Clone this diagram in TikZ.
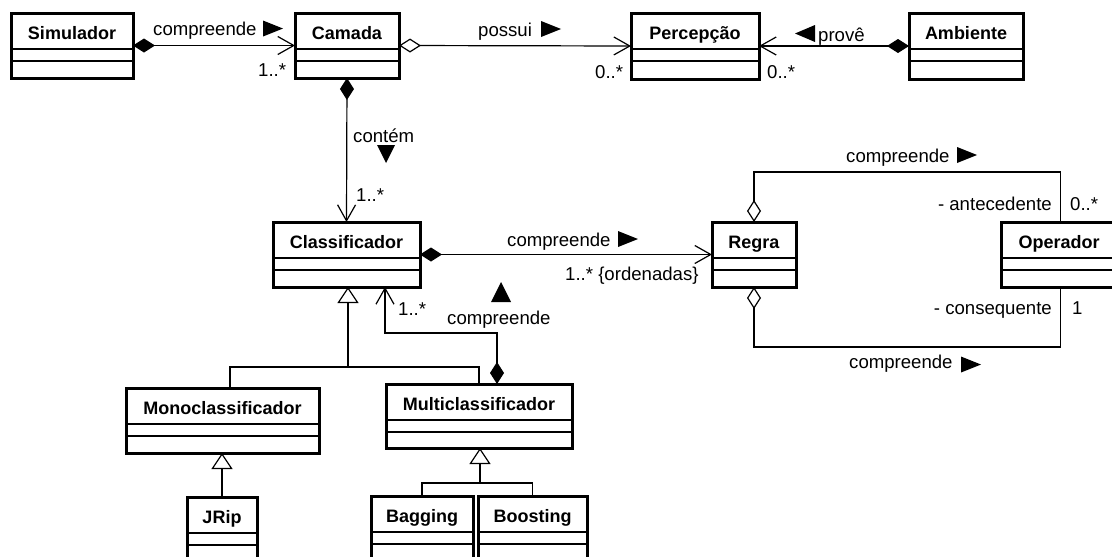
\documentclass[tikz,border=0pt]{standalone}
\usepackage{fontspec}
\setmainfont{Liberation Sans}
\usetikzlibrary{arrows.meta}
\newcommand\umlclass[6]{% name, label, left, top, right, bottom
  \pgfmathsetmacro\uclX{(#3+#5)/2}%
  \pgfmathsetmacro\uclY{(#4+#6)/2}%
  \pgfmathsetmacro\uclW{#5-#3}%
  \pgfmathsetmacro\uclH{#6-#4}%
  \node[clsbox, minimum width=\uclW pt, minimum height=\uclH pt] (#1) at (\uclX,\uclY) {};
  \node[clsname] (#1-t) at (\uclX,{#4+26}) {#2};
  \draw[compline] ({#3},{#4+36}) -- ({#5},{#4+36});
  \draw[compline] ({#3},{#4+48}) -- ({#5},{#4+48});
}
\newcommand\trR[2]{\fill ({#1},{#2-8}) -- ({#1+20},{#2}) -- ({#1},{#2+8}) -- cycle;}
\newcommand\trL[2]{\fill ({#1+20},{#2-8.5}) -- ({#1},{#2}) -- ({#1+20},{#2+8.5}) -- cycle;}
\newcommand\trD[2]{\fill ({#1-9},{#2}) -- ({#1+9},{#2}) -- ({#1},{#2+18}) -- cycle;}
\newcommand\trU[2]{\fill ({#1-10},{#2+20}) -- ({#1+10},{#2+20}) -- ({#1},{#2}) -- cycle;}
\begin{document}
\begin{tikzpicture}[x=1pt,y=-1pt,
  font=\fontsize{18.6}{21}\selectfont,
  clsbox/.style={draw, line width=3pt, inner sep=0pt, outer sep=0pt, fill=white},
  clsname/.style={anchor=base, font=\fontsize{18}{21}\selectfont\bfseries, inner sep=0pt},
  compline/.style={line width=1.2pt},
  lbl/.style={anchor=base west, inner sep=0pt},
  conn/.style={line width=1.2pt},
  compnav/.style={conn, {Diamond[length=22pt,width=14pt]}-{Straight Barb[length=16pt,width=18pt]}},
  aggnav/.style={conn, {Diamond[open,length=22pt,width=14pt,fill=white]}-{Straight Barb[length=16pt,width=18pt]}},
  agg/.style={conn, {Diamond[open,length=22pt,width=14pt,fill=white]}-},
  gen/.style={conn, -{Triangle[open,length=16pt,width=21pt,fill=white]}}
]
\useasboundingbox (0,0) rectangle (1112,557);
\clip (0,0) rectangle (1112,557);
\fill[white] (0,0) rectangle (1112,557);

% classes
\umlclass{sim}{Simulador}{11}{13}{133}{78}
\umlclass{cam}{Camada}{295}{13}{399}{78}
\umlclass{perc}{Percepção}{631}{13}{759}{79}
\umlclass{amb}{Ambiente}{909}{13}{1023}{79}
\umlclass{cls}{Classificador}{273}{222}{420}{287}
\umlclass{reg}{Regra}{712}{222}{796}{287}
\umlclass{op}{Operador}{1001}{222}{1117}{287}
\umlclass{mono}{Monoclassificador}{126}{388}{319}{453}
\umlclass{multi}{Multiclassificador}{386}{384}{572}{448}
\umlclass{jrip}{JRip}{187}{497}{257}{590}
\umlclass{bag}{Bagging}{371}{496}{473}{590}
\umlclass{boost}{Boosting}{478}{496}{587}{590}

% associations
\draw[compnav] (sim.east) -- (cam.west);
\draw[aggnav] (cam.east) -- (perc.west);
\draw[compnav] (amb.west) -- (perc.east);
\draw[compnav] (cam.south) -- (cls.north);
\draw[compnav] (cls.east) -- (reg.west);
\draw[agg] (reg.north) -- ++(0,-50) -| ([xshift=1.5]op.north);
\draw[agg] (reg.south) -- ++(0,60) -| ([xshift=1.5]op.south);
\draw[compnav] ([xshift=18]multi.north) -- ++(0,-51) -| ([xshift=38.5]cls.south);

% generalizations
\draw[conn] ([xshift=7.5]mono.north) -- ++(0,-21) -| (multi.north);
\draw[gen] ([xshift=1.5]cls.south) ++(0,80) -- ([xshift=1.5]cls.south);
\draw[gen] (jrip.north) -- (jrip.north |- mono.south);
\draw[conn] (bag.north) -- ++(0,-13) -| (boost.north);
\draw[gen] ([xshift=1]multi.south) ++(0,35) -- ([xshift=1]multi.south);

% labels
\node[lbl] (l1) at (153,35.5) {compreende}; \trR{263}{28.5}
\node[lbl] (l2) at (258,76) {1..*};
\node[lbl] (l3) at (478,36) {possui}; \trR{541}{29}
\node[lbl] (l4) at (595,78) {0..*};
\node[lbl] (l5) at (767,78) {0..*};
\trL{795}{33.5} \node[lbl] (l6) at (818,41) {provê};
\node[lbl] (l7) at (353,142) {contém}; \trD{386}{145}
\node[lbl] (l8) at (356,201) {1..*};
\node[lbl] (l9) at (507,246) {compreende}; \trR{618}{239}
\node[lbl] (l10) at (565,280) {1..* \{ordenadas\}};
\trU{501}{282}
\node[lbl] (l11) at (398,315) {1..*};
\node[lbl] (l12) at (447,324) {compreende};
\node[lbl] (l13) at (846,162) {compreende}; \trR{957}{155}
\node[anchor=base east, inner sep=0pt] (l14) at (1052,210) {- antecedente};
\node[lbl] (l15) at (1070,210) {0..*};
\node[anchor=base east, inner sep=0pt] (l16) at (1052,314) {- consequente};
\node[lbl] (l17) at (1072,314) {1};
\node[lbl] (l18) at (849,368) {compreende}; \trR{961}{364.5}
\end{tikzpicture}
\end{document}
